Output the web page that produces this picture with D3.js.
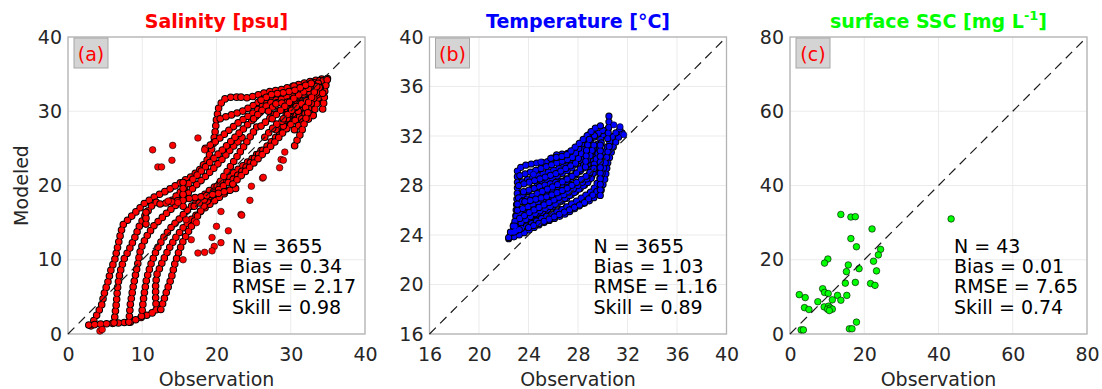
<!DOCTYPE html>
<html lang="en">
<head>
<meta charset="UTF-8">
<title>Modeled vs Observation</title>
<style>
  body { margin: 0; background: #fff; font-family: "DejaVu Sans", sans-serif; }
  svg { display: block; }
  .tick text { font-size: 19px; fill: #262626; font-family: "DejaVu Sans", sans-serif; }
</style>
</head>
<body>
<div id="chart"></div>
<script src="https://d3js.org/d3.v7.min.js"></script>
<script>
// ---- data ----
const salTicks = [0, 10, 20, 30, 40];
const tempTicks = [16, 20, 24, 28, 32, 36, 40];
const sscTicks = [0, 20, 40, 60, 80];

const salStats = ["N = 3655", "Bias = 0.34", "RMSE = 2.17", "Skill = 0.98"];
const tempStats = ["N = 3655", "Bias = 1.03", "RMSE = 1.16", "Skill = 0.89"];
const sscStats = ["N = 43", "Bias = 0.01", "RMSE = 7.65", "Skill = 0.74"];

// salinity: dense chains of samples [observation, modeled]
const salTracks = [
  [[3.1,1.1],[3.8,2.4],[4.5,3.8],[4.9,5.5],[5.4,7.1],[5.8,8.7],[6.3,10.0],[6.7,11.8],[7.1,13.6],[7.4,14.7],[8.1,15.4],[9.2,16.5],[10.3,17.6],[11.7,18.5],[13.5,19.4],[15.2,20.4],[16.6,21.2],[17.7,22.1],[18.8,23.5],[19.5,25.3],[19.8,27.1],[20.0,28.9],[20.3,30.5],[20.9,31.6],[22.0,31.9],[23.3,31.9]],
  [[2.8,1.2],[4,1.3],[5.5,1.4],[7,1.5],[8.4,1.6],[9.5,2.1],[10.8,2.6],[11.9,3.1],[11.8,5],[11.8,6.8],[12,8.1],[12.8,9.9],[13.6,11.5],[14.5,13],[15.5,14.3],[16.8,15.6],[18.2,16.8],[19.8,18],[21.2,19],[22.5,20]],
  [[6.2,1.5],[6.5,4],[6.7,6.5],[7,8.3],[7.5,10],[8.3,11.5],[9,13],[9.6,14.5],[10.4,16],[11.2,17.2],[12.5,18.2]],
  [[8.2,1.6],[8.4,4],[8.8,6.5],[9.3,9],[9.8,11.5],[10.5,13],[11.5,14.5],[12.5,15.5],[13.5,16.5],[14.8,17.6],[16,18.8],[17.2,20],[18.5,21.2],[19.8,22.5],[21,23.8],[22.2,25.2],[23.5,26.5]],
  [[9.9,2.4],[10.2,5],[10.6,7.5],[11.2,9.5],[12,11.5],[13,13.2],[14,14.5],[15,15.5],[16.2,16.8],[17.5,18],[19,19.3],[20.5,20.3],[22,21.5],[23.5,22.6],[25,23.8],[26.3,25]],
  [[12.5,3.3],[13.2,5.5],[13.9,7.5],[14.4,9.5],[14.9,11],[15.5,12.5],[16.5,14.3],[17.5,16],[18.5,17.5],[19.5,19],[20.5,20.5],[21.5,22],[22.5,23.5],[23.5,25],[24.5,26.5],[25.5,28]],
  [[14,18],[15.5,19.5],[17,21],[18.5,22.5],[20,24],[21.5,25.5],[23,27],[24.5,28.5],[26,30],[27.5,31.5]],
  [[17,17.2],[19,18.5],[21,20],[22.5,21],[24,22.5],[25.5,24],[27,25.5],[28.5,27],[30,28.5],[31.5,30]],
  [[12.4,17.5],[14,17.8],[16,18.2],[18,18.5],[20,18.9],[22,19.4],[23.2,19.8]],
  [[22.2,20.2],[24,22],[25.5,23.5],[27,25],[28,26],[29,27.2],[30.3,28.5],[31.5,29.5],[32.5,30.2]],
  [[20.5,29],[22,29.5],[23.5,30],[25,30.8],[26.5,31.8],[28,32.5]],
  [[18.5,25],[20,26],[21.5,27.3],[23,28.5],[24.5,29.5],[26,30.5],[27,31.5],[28.5,32.3]],
  [[10.5,14.8],[10.5,15.8],[10.5,16.8]],
  [[15.5,17.2],[15.5,19],[15.5,20.6]],
  [[23.3,31.9],[24.2,31.8],[25.3,32.1],[26.5,32.5],[27.4,32.7],[28.7,32.9],[30,33.3],[31.5,33.7],[33,34.1],[34.5,34.4]],
  [[25,29],[27,31],[29,32],[31,33],[33,33.8],[34.5,34.3]],
  [[26,28],[28,29.8],[30,31],[32,32.3],[33.5,33],[34.2,33.8]],
  [[28,27.5],[30,29.5],[31.5,30.5],[33,31],[34,31.5],[34.5,33],[35,34.6]],
  [[29,28],[29.5,30],[30,32.5],[30.5,33.5]],
  [[31,30],[31.2,32],[31.5,33.5]],
  [[33,29.5],[33.5,31],[34,33],[34.4,34.2]],
  [[34.3,30.3],[34.5,31.5],[34.6,33],[35,34.6]],
  [[27,30],[28.5,31.5],[30,32.2],[32,33],[33.5,33.5]],
  [[26.5,26.5],[28,28.2],[29.5,29],[31,31.5],[32.5,32.8],[34,34]],
  [[28,31],[29.5,31.2],[31,32],[32.5,32.5],[34,33.2]],
  [[30,30],[31.5,31.2],[32.8,31.8],[33.8,32.5]],
  [[27.5,29],[29,30.5],[30.5,31.8],[32,32.8],[33.5,33.9]],
  [[29,29],[30.5,30.5],[32,31.3],[33.5,32.2],[34.5,32.5]],
  [[31.5,29],[32.5,30.5],[33.2,32],[34,33.5]],
  [[32,30.5],[33,32.2],[33.8,34]],
  [[26,31.5],[27.5,32.3],[29,32.5],[30.5,32.8],[32,33.5],[33.5,34]],
  [[30.5,27.5],[31.5,28.5],[32.5,29],[33.5,29.8]],
  [[32.3,29.8],[31.4,27.1],[30.9,26.2],[30.5,25.3]]
];
// salinity: isolated samples
const salPoints = [
  [11.4,24.8],[14.1,25.4],[17.5,26.4],[14,23.4],[12.1,22.5],[12.6,22.5],[18.4,24.8],[28.5,22.4],
  [28.7,23.5],[26.2,21],[24.7,19.9],[23.3,16.1],[20.6,16.5],[20,14.5],[20.6,12.3],[19.7,11.8],
  [19.4,11.2],[18.4,11],[17.5,10.9],[15.5,10],[16.6,12.7],[15.9,15.4],[17.3,15],[13.5,17.9],
  [14.8,17.7],[21.6,13.9],[19.4,13],[26.3,21.1],[29,23.4],[29.2,24.5],[23.4,16],[24.5,18],
  [4.3,0.4],[4.6,0.6]
];

// temperature: dense chains of samples
const tempTracks = [
  [[22.5,23.9],[22.9,24.4],[23,26],[23.1,27.5],[23.1,29.3],[23.6,29.6],[24.5,29.8],[25.5,29.9],[26.3,30.5],[27.2,30.6],[28.2,30.6]],
  [[22.4,23.7],[23.5,24.1],[25,24.9],[26,25.3],[27.1,25.75],[28,26.3],[29,26.8],[29.8,27.4],[30.2,28.6],[30.4,29.8],[30.8,31],[31.2,31.8],[31.6,32.3]],
  [[22.8,24.5],[24,25.3],[25.5,26],[27,26.9],[28.5,28],[29.5,29.2],[30.1,30.6],[30.8,32],[31.4,32.6]],
  [[23,25.5],[24.5,26.8],[26,27.6],[27.5,28.6],[28.8,29.7],[29.5,31.2],[30.2,32.3]],
  [[23.2,27],[24.5,27.9],[26,28.6],[27.5,29.4],[28.5,30.3],[29,31.6],[29.8,32.4],[30.8,32.7]],
  [[23.5,28.3],[25,28.9],[26.5,29.4],[28,30.2],[28.8,31.7],[29.6,32.2]],
  [[22.8,24.8],[24,25],[25.5,25.5],[27,26.2],[28.5,27],[29.5,27.8]],
  [[23.1,26],[24,26.3],[25,26.8],[26.5,27.3],[28,28.2]],
  [[23.4,25],[24.8,25.9],[26.2,26.5],[27.8,27.5],[29,28.4],[29.6,30]],
  [[23.6,27.5],[25.2,28],[26.8,28.4],[28.2,29.2],[29.2,30.8]],
  [[22.6,24.2],[23.8,24.7],[25.2,25.4],[26.6,26],[28,26.8],[29.2,27.6],[29.9,28.8],[30.3,30.2],[30.6,31.5]],
  [[22.9,25.1],[24.2,25.9],[25.8,26.7],[27.3,27.5],[28.7,28.5],[29.4,29.9],[29.9,31.5]],
  [[23.1,26.5],[24.6,27.3],[26.2,28],[27.8,28.9],[28.9,30.2],[29.4,31.6]],
  [[23.2,28],[24.8,28.5],[26.3,29],[27.8,29.8],[28.5,31]],
  [[23.3,28.8],[24.8,29.3],[26.2,29.8],[27.5,30.2],[28.2,31.2],[29,32.3]],
  [[24,24.6],[25.5,25.2],[27,25.9],[28.5,26.6],[29.6,27.6]],
  [[25.8,30.2],[27,30.4],[28.1,31.4],[29.3,32.6],[30.2,33]],
  [[23.7,26.7],[25.5,27.1],[27,27.7],[28.6,28.7],[29.3,29.4]],
  [[30.4,31.8],[30.5,32.8],[30.5,33.5],[30.5,34]],
  [[29.8,27.2],[29.8,28.5],[29.8,30],[29.8,31.4]],
  [[28.6,29.5],[28.7,31],[29,32]],
  [[22.4,23.8],[22.6,24.4],[23,24.1],[22.7,24.9],[23.3,24.4]]
];
const tempPoints = [[24.4,28.9],[31.4,32.75],[31.7,32.1],[25,29.9],[30.9,32.9]];

// surface SSC: 43 matched samples
const sscObs = [13.7,16.4,17.6,22.1,16.4,17.9,24.4,23.8,10.2,9.3,22.5,15.7,18.6,15.2,23.3,14.9,17.6,21.7,22.9,2.5,4.1,8.8,9.3,10.3,12.8,15.3,11.4,13.7,7.5,3.9,5.1,9.2,10.4,10.1,10.9,11.4,10.6,17.9,16.0,16.7,3.0,3.6,43.4];
const sscMod = [32.2,31.5,31.6,28.3,25.7,23.5,22.8,21.3,20.2,19.1,19.6,18.6,17.6,16.8,17.0,13.7,13.9,13.6,13.1,10.6,9.8,12.2,11.2,10.9,10.4,10.4,9.2,9.1,8.7,7.1,6.6,7.3,7.5,6.7,7.0,6.7,6.3,3.2,1.4,1.4,1.1,1.1,31.0];

// ---- layout ----
const width = 1102, height = 389;
const plotTop = 37, size = 297;
const svg = d3.select("#chart").append("svg")
  .attr("width", width)
  .attr("height", height);

const panels = [
  { left: 68, domain: [0, 40], ticks: salTicks, color: "#ff0000", tracks: salTracks,
    points: salPoints, stats: salStats, tag: "(a)", r: 3.3, title: ["Salinity [psu]"] },
  { left: 429.5, domain: [16, 40], ticks: tempTicks, color: "#0000ff", tracks: tempTracks,
    points: tempPoints, stats: tempStats, tag: "(b)", r: 3.1, title: ["Temperature [°C]"] },
  { left: 790, domain: [0, 80], ticks: sscTicks, color: "#00ff00", tracks: [],
    points: sscObs.map((v, i) => [v, sscMod[i]]), stats: sscStats, tag: "(c)", r: 3.3,
    title: ["surface SSC [mg L", "-1", "]"] }
];

panels.forEach(drawPanel);

// y label only on the first panel
svg.append("text")
  .attr("transform", `translate(28,${plotTop + size / 2}) rotate(-90)`)
  .attr("text-anchor", "middle")
  .style("font-size", "19px")
  .style("fill", "#262626")
  .text("Modeled");

function drawPanel(p) {
  const g = svg.append("g").attr("transform", `translate(${p.left},${plotTop})`);
  const x = d3.scaleLinear().domain(p.domain).range([0, size]);
  const y = d3.scaleLinear().domain(p.domain).range([size, 0]);

  // grid
  g.append("g").selectAll("line").data(p.ticks).join("line")
    .attr("x1", d => x(d)).attr("x2", d => x(d))
    .attr("y1", 0).attr("y2", size)
    .attr("stroke", "#ebebeb");
  g.append("g").selectAll("line").data(p.ticks).join("line")
    .attr("y1", d => y(d)).attr("y2", d => y(d))
    .attr("x1", 0).attr("x2", size)
    .attr("stroke", "#ebebeb");

  // axes (labels only)
  const xa = g.append("g").attr("transform", `translate(0,${size})`)
    .call(d3.axisBottom(x).tickValues(p.ticks).tickSize(0).tickPadding(14).tickFormat(d3.format("d")));
  const ya = g.append("g")
    .call(d3.axisLeft(y).tickValues(p.ticks).tickSize(0).tickPadding(6).tickFormat(d3.format("d")));
  xa.select(".domain").remove();
  ya.select(".domain").remove();

  // box
  g.append("rect")
    .attr("width", size).attr("height", size)
    .attr("fill", "none").attr("stroke", "#b3b3b3").attr("stroke-width", 1.3);

  // sample chains: markers placed along each chain by a round-capped dash pattern
  const line = d3.line().x(d => x(d[0])).y(d => y(d[1]));
  const step = p.r * 1.8;
  p.tracks.forEach(t => {
    g.append("path").attr("d", line(t))
      .attr("fill", "none").attr("stroke", "#000")
      .attr("stroke-width", 2 * p.r + 1)
      .attr("stroke-dasharray", `0 ${step}`)
      .attr("stroke-linecap", "round").attr("stroke-linejoin", "round");
    g.append("path").attr("d", line(t))
      .attr("fill", "none").attr("stroke", p.color)
      .attr("stroke-width", 2 * p.r - 1)
      .attr("stroke-dasharray", `0 ${step}`)
      .attr("stroke-linecap", "round").attr("stroke-linejoin", "round");
  });

  // single samples
  g.append("g").selectAll("circle").data(p.points).join("circle")
    .attr("cx", d => x(d[0])).attr("cy", d => y(d[1])).attr("r", p.r)
    .attr("fill", p.color).attr("stroke", "#000").attr("stroke-width", 0.6);

  // 1:1 line
  g.append("line")
    .attr("x1", x(p.domain[0])).attr("y1", y(p.domain[0]))
    .attr("x2", x(p.domain[1])).attr("y2", y(p.domain[1]))
    .attr("stroke", "#1a1a1a").attr("stroke-width", 1.2)
    .attr("stroke-dasharray", "9,6");

  // panel tag
  g.append("rect")
    .attr("x", 6).attr("y", 1).attr("width", 34).attr("height", 30)
    .attr("fill", "#d4d4d4").attr("stroke", "#a6a6a6");
  g.append("text")
    .attr("x", 23).attr("y", 23.5)
    .attr("text-anchor", "middle")
    .style("font-size", "19px").style("fill", "#ff0000")
    .text(p.tag);

  // stats
  g.append("g").selectAll("text").data(p.stats).join("text")
    .attr("x", 164)
    .attr("y", (d, i) => 215.5 + i * 20.4)
    .style("font-size", "19px").style("fill", "#000")
    .text(d => d);

  // title
  const tt = g.append("text")
    .attr("x", size / 2).attr("y", -9)
    .attr("text-anchor", "middle")
    .style("font-size", "19px").style("font-weight", "bold").style("fill", p.color);
  tt.append("tspan").text(p.title[0]);
  if (p.title.length > 1) {
    tt.append("tspan").attr("dy", -8).style("font-size", "13px").text(p.title[1]);
    tt.append("tspan").attr("dy", 8).text(p.title[2]);
  }

  // x label
  g.append("text")
    .attr("x", size / 2).attr("y", 349)
    .attr("text-anchor", "middle")
    .style("font-size", "19px").style("fill", "#262626")
    .text("Observation");
}
</script>
</body>
</html>
